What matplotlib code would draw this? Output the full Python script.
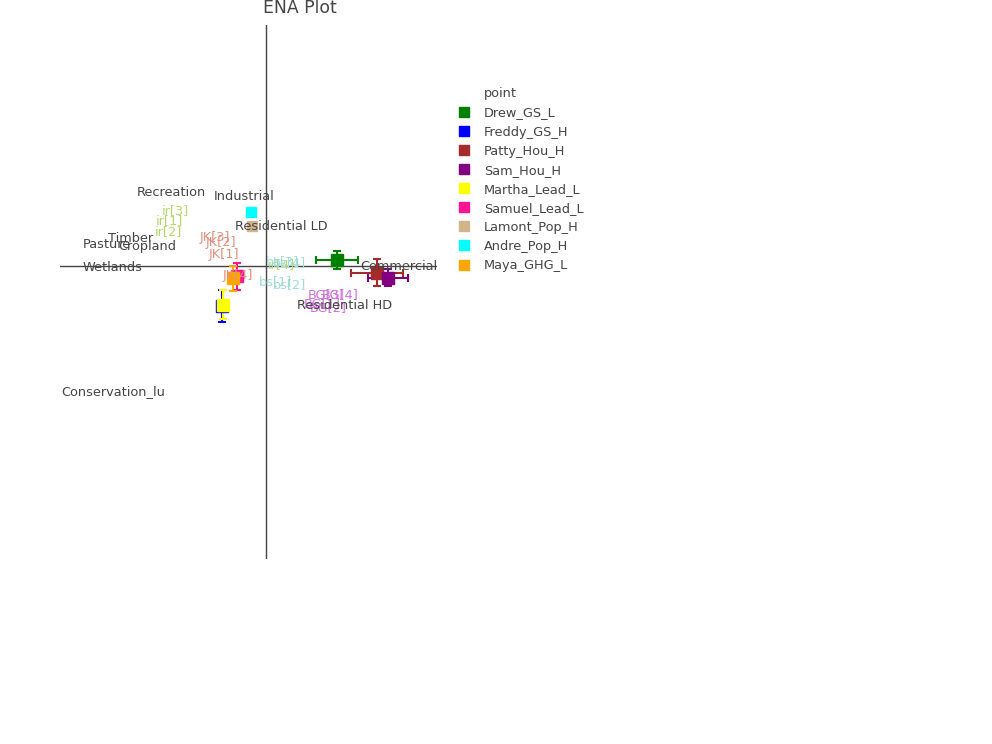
import matplotlib
matplotlib.use("Agg")
import matplotlib.pyplot as plt
from matplotlib.lines import Line2D

plt.rcParams['font.family'] = ['DejaVu Sans']

# ---- data ----
point_names = ["Drew_GS_L", "Freddy_GS_H", "Patty_Hou_H", "Sam_Hou_H", "Martha_Lead_L",
               "Samuel_Lead_L", "Lamont_Pop_H", "Andre_Pop_H", "Maya_GHG_L"]
point_x = [0.71, -0.445, 1.11, 1.22, -0.43, -0.29, -0.14, -0.15, -0.33]
point_y = [0.06, -0.405, -0.07, -0.12, -0.39, -0.105, 0.40, 0.54, -0.125]
point_xerr = [0.21, 0.0, 0.26, 0.20, 0.0, 0.0, None, None, 0.0]
point_yerr = [0.09, 0.16, 0.135, 0.085, 0.145, 0.135, None, None, 0.125]

loading_names = ["Recreation", "Industrial", "Residential LD", "Timber", "Pasture",
                 "Cropland", "Wetlands", "Commercial", "Residential HD", "Conservation_lu"]
loading_x = [-0.95, -0.22, 0.15, -1.35, -1.59, -1.19, -1.53, 1.33, 0.79, -1.53]
loading_y = [0.73, 0.69, 0.39, 0.27, 0.21, 0.19, -0.02, -0.01, -0.40, -1.26]

code_names = ["ir[3]", "ir[1]", "ir[2]", "ir[4]",
              "JK[3]", "JK[2]", "JK[1]", "JK[4]",
              "bs[1]", "bs[2]", "bs[3]", "bs[4]",
              "BG[3]", "BG[4]", "BG[1]", "BG[2]"]
code_groups = ["ir", "ir", "ir", "ir", "JK", "JK", "JK", "JK",
               "bs", "bs", "bs", "bs", "BG", "BG", "BG", "BG"]
code_x = [-0.91, -0.97, -0.98, 0.15, -0.51, -0.45, -0.42, -0.28,
          0.10, 0.24, 0.16, 0.23, 0.60, 0.74, 0.56, 0.62]
code_y = [0.55, 0.45, 0.34, 0.01, 0.28, 0.23, 0.11, -0.10,
          -0.16, -0.19, 0.04, 0.03, -0.29, -0.29, -0.38, -0.42]

# ---- styles ----
point_colors = ["#008000", "#0000FF", "#A52A2A", "#800080", "#FFFF00",
                "#FF1493", "#D2B48C", "#00FFFF", "#FFA500"]
group_colors = {"ir": "#B5D86A", "JK": "#E4907C", "bs": "#A2DCD6", "BG": "#D070DC"}
txt_color = "#444444"

W, H = 992, 744
fig = plt.figure(figsize=(W / 100, H / 100), dpi=100)
L, R, T, B = 60, 437, 25, 559
ax = fig.add_axes([L / W, 1 - B / H, (R - L) / W, (B - T) / H])
ax.set_xlim(-2.06, 1.71)
ax.set_ylim(-2.93, 2.41)
for s in ax.spines.values():
    s.set_visible(False)
ax.set_xticks([])
ax.set_yticks([])
ax.axhline(0, color=txt_color, lw=1, zorder=1)
ax.axvline(0, color=txt_color, lw=1, zorder=1)

fs = 9.3
handles = []
for i, name in enumerate(point_names):
    c = point_colors[i]
    if point_yerr[i] is None:
        ax.plot(point_x[i], point_y[i], marker='s', ms=7, color=c, ls='none', zorder=3)
    else:
        ax.errorbar(point_x[i], point_y[i], xerr=point_xerr[i] or None, yerr=point_yerr[i],
                    fmt='s', ms=8.5, color=c, ecolor=c, elinewidth=1.5, capsize=3,
                    capthick=1.5, zorder=3)
    handles.append(Line2D([], [], marker='s', ls='none', color=c, ms=7, label=name))

for n, g, x, y in zip(code_names, code_groups, code_x, code_y):
    ax.text(x, y, n, color=group_colors[g], fontsize=fs, ha='center', va='center', zorder=4)

for n, x, y in zip(loading_names, loading_x, loading_y):
    ax.text(x, y, n, color=txt_color, fontsize=fs, ha='center', va='center', zorder=5)

fig.text(300 / W, 1 - 8 / H, "ENA Plot", color=txt_color, fontsize=12.4, ha='center', va='center')

leg = fig.legend(handles=handles, loc='upper left',
                 bbox_to_anchor=(451 / W, 1 - 100 / H), frameon=False,
                 fontsize=fs, labelspacing=0.47,
                 handlelength=1.0, handletextpad=1.05, borderpad=0.0)
for t in leg.get_texts():
    t.set_color(txt_color)
fig.text(484 / W, 1 - 93 / H, "point", color=txt_color, fontsize=fs, ha='left', va='center')

fig.savefig("out.png", dpi=100, facecolor='white')
